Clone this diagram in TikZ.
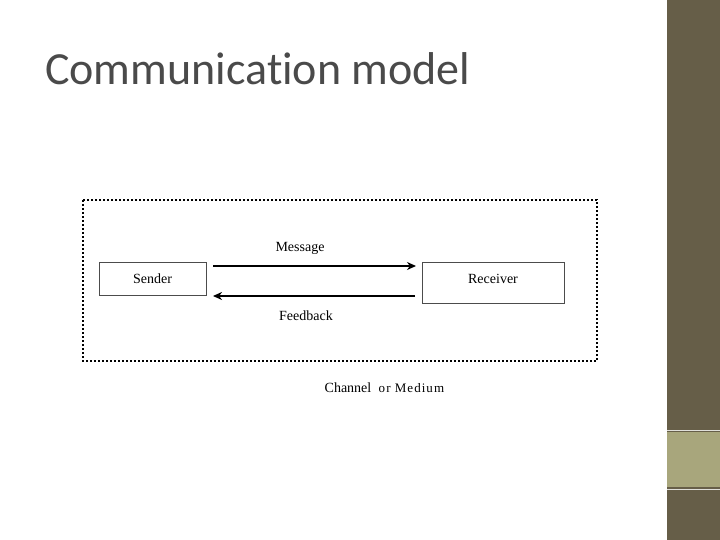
\documentclass[tikz,border=0pt]{standalone}
\usepackage{fontspec}
\setmainfont{Liberation Serif}
\newfontfamily\titlefont[Ligatures=NoCommon]{Carlito}
\usetikzlibrary{arrows.meta}
\usetikzlibrary{positioning}
\definecolor{barolive}{HTML}{665E48}
\definecolor{barlight}{HTML}{A8A67C}
\definecolor{titlegray}{HTML}{4A4A4A}
\tikzset{
  box/.style={draw=black!70, line width=0.6pt, minimum height=33pt, font=\fontsize{14}{16}\selectfont},
  flow/.style={line width=2.6pt, -{Stealth[length=9pt,width=8pt]}},
  lbl/.style={font=\fontsize{14}{16}\selectfont, inner sep=0pt}
}
\begin{document}
\begin{tikzpicture}[x=1pt,y=-1pt]
	\useasboundingbox (0,0) rectangle (720,540);
	% slide background
	\fill[white] (0,0) rectangle (720,540);
	\fill[barolive] (667,0) rectangle (720,540);
	\fill[barlight] (667,432) rectangle (720,487);
	\draw[white!80!barolive, line width=1pt] (667,430) -- (720,430) (667,489) -- (720,489);
	\node[titlegray, anchor=base west, inner sep=0pt, font=\titlefont\fontsize{46}{50}\selectfont] (title) at (45,85) {Communication model};

	% channel frame
	\draw[line width=2.8pt, dash pattern=on 2.2pt off 1.8pt] (83,200) rectangle (597,361);

	\node[box, minimum width=107pt] (sender) at (152.5,278.5) {Sender};
	\node[box, minimum width=142pt, minimum height=41pt, label={[lbl]center:\raisebox{8pt}{Receiver}}] (receiver) at (493,282.5) {};

	\coordinate (m1) at (213,266);
	\coordinate (m2) at (416,266);
	\coordinate (f1) at (415,296);
	\coordinate (f2) at (213,296);
	\draw[flow] (m1) -- (m2);
	\draw[flow] (f1) -- (f2);

	\node[lbl] (message) at (300,248) {Message};
	\node[lbl] (feedback) at (306,316) {Feedback};
	\node[lbl] (channel) at (348,388) {Channel};
	\node[lbl, right=7pt of channel, font=\fontsize{13}{15}\selectfont\addfontfeature{LetterSpace=8}] (medium) {or Medium};
\end{tikzpicture}
\end{document}
